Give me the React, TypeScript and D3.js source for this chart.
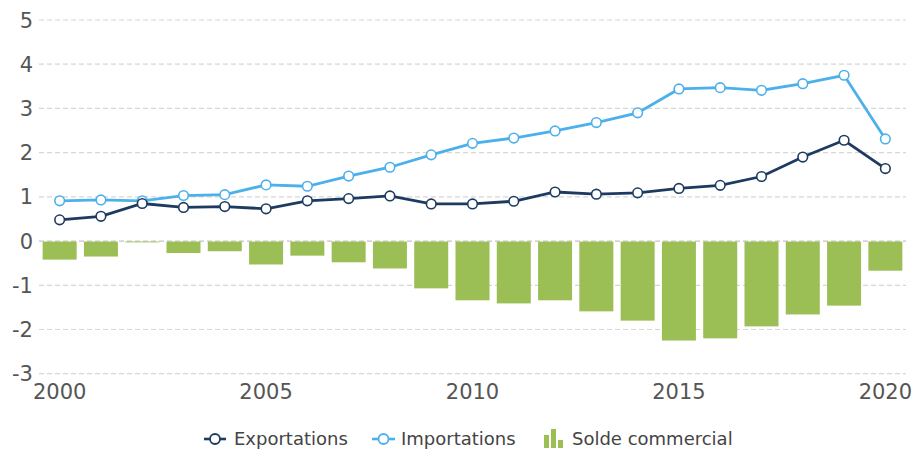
import React from "react";
import * as d3 from "d3";

const years = [2000, 2001, 2002, 2003, 2004, 2005, 2006, 2007, 2008, 2009, 2010, 2011, 2012, 2013, 2014, 2015, 2016, 2017, 2018, 2019, 2020];
const exportations = [0.48, 0.56, 0.85, 0.76, 0.78, 0.73, 0.91, 0.96, 1.02, 0.84, 0.84, 0.9, 1.11, 1.06, 1.09, 1.19, 1.26, 1.46, 1.9, 2.28, 1.64];
const importations = [0.91, 0.93, 0.91, 1.03, 1.05, 1.27, 1.24, 1.47, 1.67, 1.95, 2.21, 2.33, 2.49, 2.68, 2.9, 3.44, 3.47, 3.41, 3.56, 3.75, 2.31];
const solde = [-0.42, -0.35, -0.03, -0.27, -0.23, -0.53, -0.33, -0.48, -0.62, -1.07, -1.34, -1.41, -1.34, -1.59, -1.8, -2.25, -2.2, -1.93, -1.66, -1.46, -0.67];
const yTicks = [-3, -2, -1, 0, 1, 2, 3, 4, 5];
const xTicks = [2000, 2005, 2010, 2015, 2020];
const legendLabels = ["Exportations", "Importations", "Solde commercial"];

const W = 913;
const H = 451;
const NAVY = "#1d3b61";
const BLUE = "#4cb0ea";
const GREEN = "#9bbf55";
const FONT = "'DejaVu Sans', Verdana, sans-serif";

export default function App() {
  const x = d3.scaleLinear().domain([1999.5, 2020.5]).range([39, 906]);
  const y = d3.scaleLinear().domain([-3, 5]).range([373.7, 20]);
  const barW = 34;

  const line = d3
    .line<number>()
    .x((_, i) => x(years[i]))
    .y((d) => y(d));

  const ly = 439;

  return (
    <svg
      width={W}
      height={H}
      style={{ position: "absolute", left: 0, top: 0, display: "block", background: "#fff" }}
      fontFamily={FONT}
    >
      {/* grid */}
      {yTicks.map((t) => (
        <line
          key={"g" + t}
          x1={39}
          x2={906}
          y1={y(t)}
          y2={y(t)}
          stroke={t === 0 ? "#c4c4c4" : "#d6d6d6"}
          strokeWidth={1.2}
          strokeDasharray="5,3"
        />
      ))}
      {/* y tick labels */}
      {yTicks.map((t) => (
        <text
          key={"yl" + t}
          x={33}
          y={y(t)}
          dy="0.36em"
          textAnchor="end"
          fontSize={21}
          fill="#555"
        >
          {t}
        </text>
      ))}
      {/* x tick labels */}
      {xTicks.map((t) => (
        <text key={"xl" + t} x={x(t)} y={399} textAnchor="middle" fontSize={21} fill="#555">
          {t}
        </text>
      ))}
      {/* bars */}
      {solde.map((v, i) => (
        <rect
          key={"b" + i}
          x={x(years[i]) - barW / 2}
          y={y(0) + 0.5}
          width={barW}
          height={Math.max(0, y(v) - y(0) - 0.5)}
          fill={GREEN}
        />
      ))}
      {/* lines */}
      <path d={line(importations) || ""} fill="none" stroke={BLUE} strokeWidth={2.8} />
      <path d={line(exportations) || ""} fill="none" stroke={NAVY} strokeWidth={2.8} />
      {importations.map((v, i) => (
        <circle key={"ci" + i} cx={x(years[i])} cy={y(v)} r={4.8} fill="#fff" stroke={BLUE} strokeWidth={1.6} />
      ))}
      {exportations.map((v, i) => (
        <circle key={"ce" + i} cx={x(years[i])} cy={y(v)} r={4.8} fill="#fff" stroke={NAVY} strokeWidth={1.6} />
      ))}
      {/* legend */}
      <g fontSize={18} fill="#444">
        <line x1={204} x2={226} y1={ly} y2={ly} stroke={NAVY} strokeWidth={2.6} />
        <circle cx={215} cy={ly} r={5} fill="#fff" stroke={NAVY} strokeWidth={1.8} />
        <text x={234} y={445}>{legendLabels[0]}</text>
        <line x1={372} x2={395} y1={ly} y2={ly} stroke={BLUE} strokeWidth={2.6} />
        <circle cx={383.5} cy={ly} r={5} fill="#fff" stroke={BLUE} strokeWidth={1.8} />
        <text x={401} y={445}>{legendLabels[1]}</text>
        <rect x={544} y={435} width={5} height={13} fill={GREEN} />
        <rect x={551} y={429} width={5} height={19} fill={GREEN} />
        <rect x={558} y={440} width={5} height={8} fill={GREEN} />
        <text x={572} y={445}>{legendLabels[2]}</text>
      </g>
    </svg>
  );
}
